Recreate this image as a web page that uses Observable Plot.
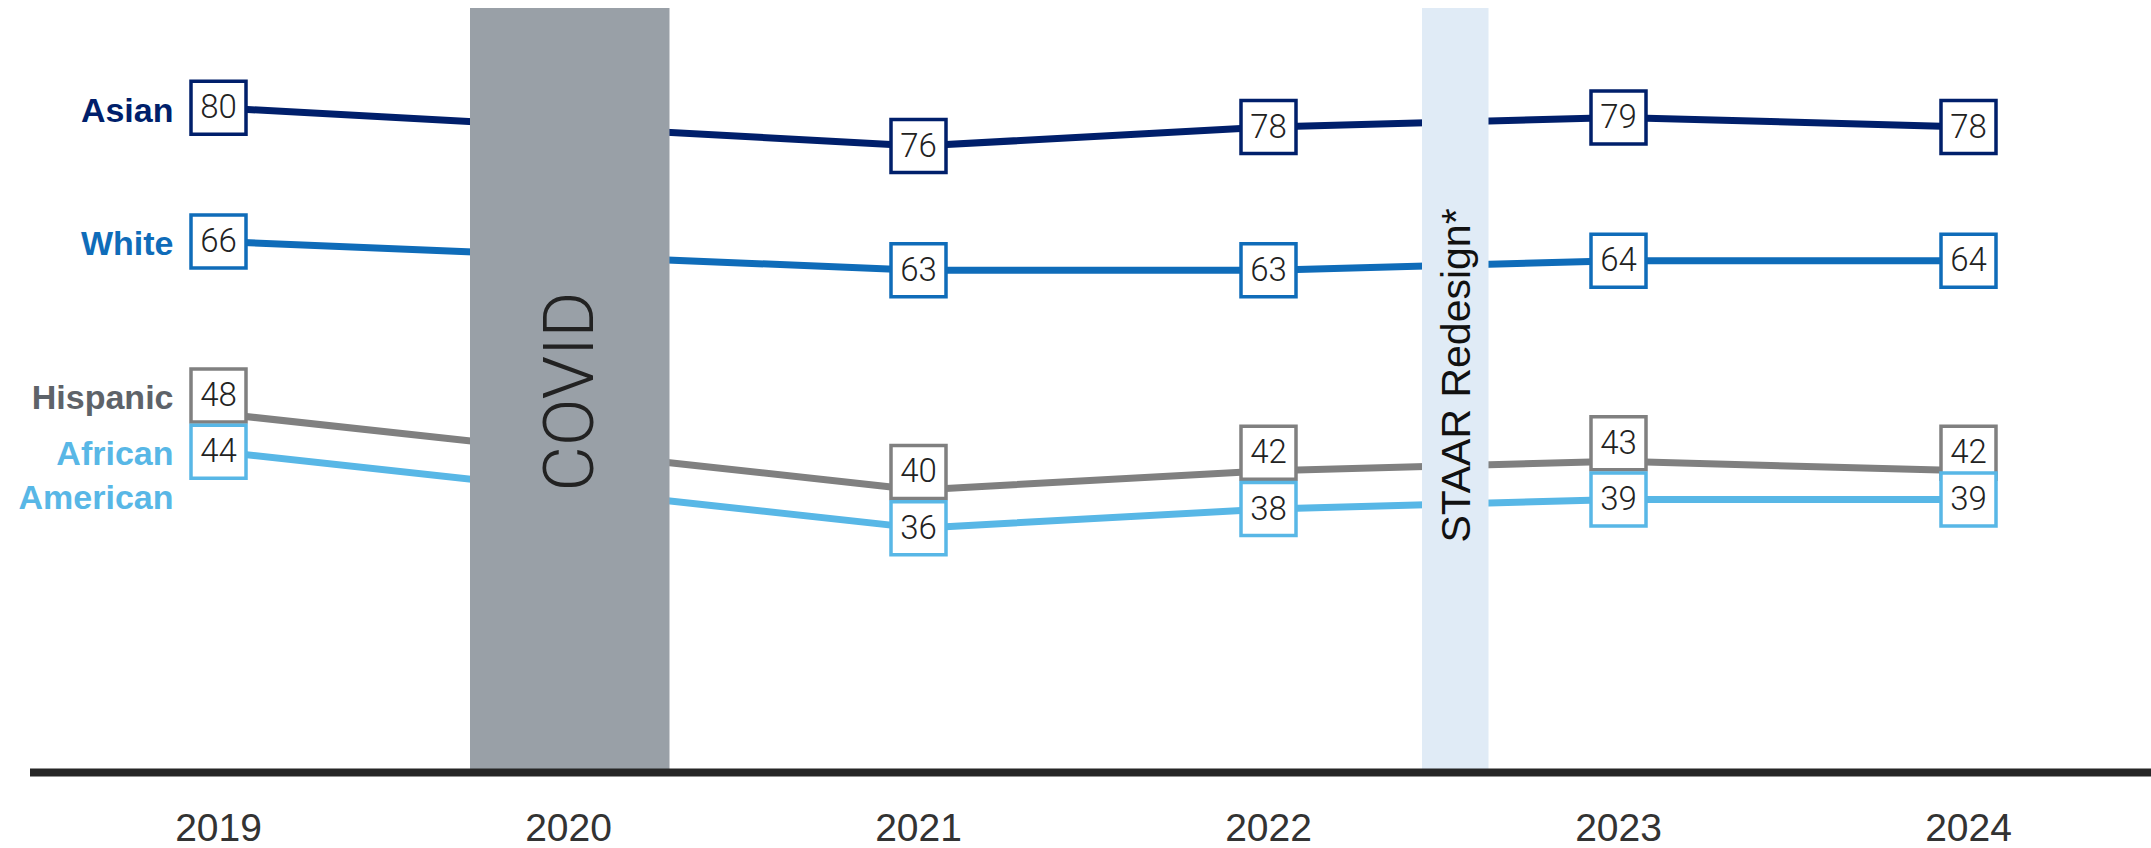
<!DOCTYPE html>
<html>
<head>
<meta charset="utf-8">
<script src="https://cdn.jsdelivr.net/npm/d3@7"></script>
<script src="https://cdn.jsdelivr.net/npm/@observablehq/plot@0.6"></script>
<style>
  html, body { margin: 0; padding: 0; background: #fff; overflow: hidden; }
  #chart svg { display: block; }
</style>
</head>
<body>
<div id="chart"></div>
<script>
// ---- data ----
const years = [2019, 2021, 2022, 2023, 2024];
const axisYears = [2019, 2020, 2021, 2022, 2023, 2024];
const seriesNames = ["Asian", "White", "Hispanic", "African American"];
const seriesLabels = ["Asian", "White", "Hispanic", "African\nAmerican"];
const asian = [80, 76, 78, 79, 78];
const white = [66, 63, 63, 64, 64];
const hispanic = [48, 40, 42, 43, 42];
const africanAmerican = [44, 36, 38, 39, 39];
const eventNames = ["COVID", "STAAR Redesign*"];
const eventStart = [2019.72, 2022.44];
const eventEnd = [2020.29, 2022.63];

// ---- build tables ----
const valuesBySeries = [asian, white, hispanic, africanAmerican];
const rows = [];
seriesNames.forEach((s, i) => years.forEach((y, j) => rows.push({series: s, year: y, value: valuesBySeries[i][j]})));
const events = eventNames.map((n, i) => ({name: n, x1: eventStart[i], x2: eventEnd[i]}));

const lineColors = ["#001f6b", "#0f6cb9", "#808080", "#58b7e6"];
const labelColors = ["#001f6b", "#0f6cb9", "#5e6369", "#58b7e6"];
const boxDy = {"Asian": 0, "White": 0, "Hispanic": -18, "African American": 0};

const W = 2151, H = 848, mL = 30, mR = 0;
const pxPerYear = 350;
const x0 = 2019 - (218 - mL) / pxPerYear;
const x1 = x0 + (W - mL - mR) / pxPerYear;

const boxSymbol = {draw(ctx) { ctx.rect(-27.5, -26.5, 55, 53); }};

const marks = [];
// lines
marks.push(Plot.line(rows, {x: "year", y: "value", z: "series", stroke: "series", strokeWidth: 7, strokeLinejoin: "miter"}));
// event bands
marks.push(Plot.rectX(events.slice(0, 1), {x1: "x1", x2: "x2", fill: "#99a0a7"}));
marks.push(Plot.rectX(events.slice(1), {x1: "x1", x2: "x2", fill: "#e0ebf6"}));
marks.push(Plot.text(events.slice(0, 1), {x: d => (d.x1 + d.x2) / 2, frameAnchor: "middle", text: "name", rotate: -90,
  fontFamily: "Roboto", fontWeight: 300, fontSize: 70, fill: "#222", dy: -1}));
marks.push(Plot.text(events.slice(1), {x: d => (d.x1 + d.x2) / 2, frameAnchor: "middle", text: "name", rotate: -90,
  fontFamily: "Liberation Sans", fontSize: 41, fill: "#111", dy: -17, dx: 1}));
// axis line
marks.push(Plot.ruleY([10], {stroke: "#262626", strokeWidth: 8, dy: -4}));
// boxes and numbers
seriesNames.forEach((s, i) => {
  const data = rows.filter(d => d.series === s);
  marks.push(Plot.dot(data, {x: "year", y: "value", symbol: boxSymbol, r: 10, fill: "#fff", stroke: lineColors[i], strokeWidth: 3.5, dy: boxDy[s]}));
  marks.push(Plot.text(data, {x: "year", y: "value", text: d => String(d.value), dy: boxDy[s],
    fontFamily: "Roboto", fontWeight: 300, fontSize: 33, fill: "#222", lineAnchor: "middle"}));
});
// series labels
seriesNames.forEach((s, i) => {
  const first = rows.find(d => d.series === s && d.year === years[0]);
  const multi = seriesLabels[i].includes("\n");
  marks.push(Plot.text([first], {x: "year", y: "value", text: () => seriesLabels[i], textAnchor: "end", dx: -45,
    dy: boxDy[s] + (multi ? 21.5 : 0), lineHeight: 1.27, lineAnchor: "middle",
    fontFamily: "Liberation Sans", fontWeight: "bold", fontSize: 34, fill: labelColors[i]}));
});
// x axis labels
marks.push(Plot.axisX(axisYears, {tickSize: 0, tickPadding: 37, fontSize: 39, tickFormat: d => String(d), fill: "#333", fontFamily: "Liberation Sans", label: null}));

const chart = Plot.plot({
  width: W, height: H,
  marginLeft: mL, marginRight: mR, marginTop: 8, marginBottom: 72,
  style: {fontFamily: "Liberation Sans", background: "#fff"},
  x: {type: "linear", domain: [x0, x1], axis: null},
  y: {type: "linear", domain: [10, 90.4], axis: null},
  color: {domain: seriesNames, range: lineColors},
  marks
});
document.getElementById("chart").appendChild(chart);
</script>
</body>
</html>
